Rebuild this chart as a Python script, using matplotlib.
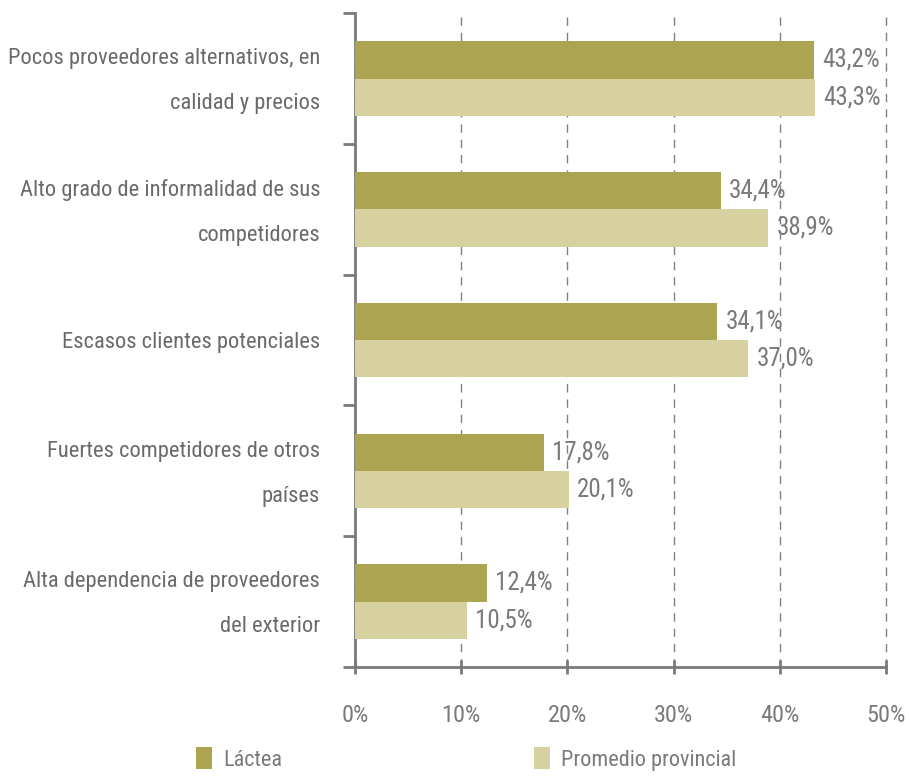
import matplotlib

matplotlib.use("Agg")
import matplotlib.pyplot as plt
from matplotlib import font_manager
from matplotlib.patches import Patch

# pick a condensed face if the system has one
FONT, SCALE = "Liberation Sans", 0.9
names = {f.name for f in font_manager.fontManager.ttflist}
for cand in ("Roboto Condensed", "Liberation Sans Narrow", "Open Sans Condensed"):
    if cand in names:
        FONT, SCALE = cand, 1.0
        break

plt.rcParams["font.family"] = [FONT, "DejaVu Sans"]

categories = [
    "Pocos proveedores alternativos, en\ncalidad y precios",
    "Alto grado de informalidad de sus\ncompetidores",
    "Escasos clientes potenciales",
    "Fuertes competidores de otros\npaíses",
    "Alta dependencia de proveedores\ndel exterior",
]
lactea = [43.2, 34.4, 34.1, 17.8, 12.4]
promedio = [43.3, 38.9, 37.0, 20.1, 10.5]
series_names = ["Láctea", "Promedio provincial"]
xticks = [0, 10, 20, 30, 40, 50]

DARK = "#ada452"
LIGHT = "#d7d19f"
TEXT = "#7a7a7a"
AXIS = "#7a7a7a"

fig = plt.figure(figsize=(9.1, 7.8), dpi=100)
ax = fig.add_axes([0.390, 0.145, 0.584, 0.838])

ypos = list(range(len(categories)))
h = 0.285
ax.barh([y - h / 2 for y in ypos], lactea, height=h, color=DARK, zorder=3)
ax.barh([y + h / 2 for y in ypos], promedio, height=h, color=LIGHT, zorder=3)

for y, a, b in zip(ypos, lactea, promedio):
    for val, yy in ((a, y - h / 2), (b, y + h / 2)):
        ax.annotate(f"{val:.1f}%".replace(".", ","), (val, yy), xytext=(6, 0),
                    textcoords="offset points", va="center", ha="left",
                    fontsize=18 * SCALE, color=TEXT, zorder=4)

# category labels drawn as text so two-line labels centre on the group
for y, cat in zip(ypos, categories):
    ax.annotate(cat, (0, y), xytext=(-25, -2), textcoords="offset points",
                ha="right", va="center", linespacing=2.5, annotation_clip=False,
                fontsize=16.2 * SCALE, color="#6a6a6a")

ax.set_xlim(0, 50)
ax.set_ylim(len(categories) - 0.5, -0.5)
ax.set_xticks(xticks)
ax.set_xticklabels([f"{t}%" for t in xticks])
ax.set_yticks([])
ax.set_yticks([i - 0.5 for i in range(len(categories) + 1)], minor=True)

ax.tick_params(axis="y", which="minor", length=9, width=2, color=AXIS, direction="out")
ax.tick_params(axis="x", which="major", length=10, width=2, color=AXIS, direction="inout",
               pad=22, labelsize=17.5 * SCALE, labelcolor=TEXT)

for s in ("top", "right"):
    ax.spines[s].set_visible(False)
for s in ("left", "bottom"):
    ax.spines[s].set_color(AXIS)
    ax.spines[s].set_linewidth(2)

ax.xaxis.grid(True, linestyle=(0, (6, 5)), color="#808080", linewidth=1, zorder=0)
for gl in ax.get_xgridlines():
    gl.set_clip_on(False)
ax.set_axisbelow(True)

handles = [Patch(facecolor=DARK), Patch(facecolor=LIGHT)]
fig.legend(handles, series_names, loc="center left", bbox_to_anchor=(0.215, 0.027),
           ncol=2, frameon=False, fontsize=16 * SCALE, handlelength=0.75, handleheight=1.1,
           handletextpad=0.5, columnspacing=14 if SCALE < 1 else 11.3, labelcolor=TEXT,
           borderpad=0, borderaxespad=0)

fig.savefig("out.png", dpi=100)
